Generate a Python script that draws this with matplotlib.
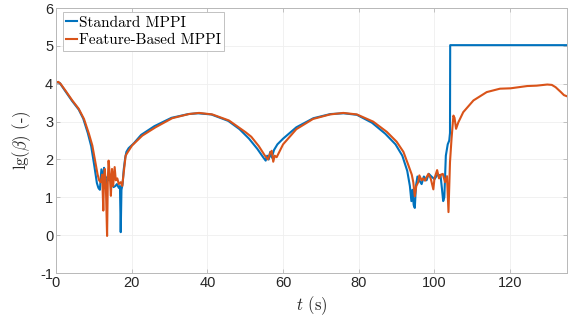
import numpy as np
import matplotlib
matplotlib.use('Agg')
import matplotlib.pyplot as plt

plt.rcParams['mathtext.fontset'] = 'cm'
plt.rcParams['font.family'] = ['Liberation Sans', 'DejaVu Sans']

# MATLAB default colours
c_std = (0.0, 0.447, 0.741)
c_feat = (0.85, 0.325, 0.098)

# Standard MPPI, lg(beta) over time
t_standard = [0, 0.5, 1.0, 2.5, 4.3, 6.0, 7.2, 8.4, 9.3, 10.1, 10.8, 11.2, 11.6, 12.0,
              12.4, 12.7, 13.0, 13.2, 13.6, 13.9, 14.3, 14.8, 15.2, 15.7, 16.1, 16.6,
              16.9, 17.1, 17.3, 17.6, 17.9, 18.3, 18.6, 19.2, 20.5, 22.5, 26, 30.5, 35,
              37.5, 41, 45.5, 48.5, 51, 53.2, 54.8, 55.4, 55.8, 56.2, 56.6, 57.0, 57.6,
              58.5, 60, 63.5, 68, 72.5, 76, 79.5, 83.5, 87, 89.7, 91.5, 92.8, 93.5, 93.9,
              94.2, 94.5, 94.8, 95.1, 95.5, 96, 96.6, 97.2, 97.9, 98.5, 99.2, 100, 100.8,
              101.6, 102.0, 102.3, 102.6, 103.0, 103.5, 103.9, 104.1, 104.15, 135]
lg_standard = [4.03, 4.04, 4.02, 3.8, 3.54, 3.32, 3.08, 2.7, 2.35, 1.85, 1.38, 1.25, 1.2, 1.74,
               1.45, 1.78, 1.3, 1.22, 1.55, 1.45, 1.6, 1.35, 1.27, 1.3, 1.35, 1.25,
               1.3, 0.08, 1.2, 1.35, 1.74, 2.05, 2.2, 2.3, 2.42, 2.65, 2.88, 3.1, 3.2,
               3.22, 3.19, 3.02, 2.8, 2.55, 2.28, 2.05, 1.97, 2.1, 2.0, 2.2, 2.05, 2.25,
               2.4, 2.55, 2.85, 3.09, 3.2, 3.22, 3.18, 2.97, 2.68, 2.4, 2.1, 1.7, 1.3, 0.9,
               1.2, 0.8, 0.72, 1.3, 1.55, 1.45, 1.35, 1.55, 1.45, 1.62, 1.55, 1.48, 1.6,
               1.58, 1.2, 0.9, 1.0, 2.1, 2.4, 2.5, 2.7, 5.02, 5.02]

# Feature-Based MPPI
t_feature = [0, 0.6, 1.2, 2.5, 4.3, 6.0, 7.4, 8.7, 9.6, 10.4, 11.0, 11.4, 11.8, 12.2, 12.5,
             12.7, 12.9, 13.2, 13.5, 13.7, 13.9, 14.2, 14.5, 14.8, 15.1, 15.5, 15.8, 16.2,
             16.6, 17.1, 17.5, 17.9, 18.4, 19.0, 20.1, 22.8, 26.3, 30.7, 35.1, 37.8, 41.3,
             45.7, 50.1, 51.6, 53.6, 55.2, 56.0, 56.5, 57.0, 57.4, 57.8, 58.3, 60.0, 63.5,
             67.9, 72.4, 75.9, 79.5, 83.8, 87.4, 90.0, 91.8, 93.1, 94.0, 94.4, 94.8, 95.2,
             95.7, 96.0, 96.6, 97.0, 97.5, 98.0, 98.4, 99.0, 99.7, 100.0, 100.7, 101.2,
             101.7, 102.2, 102.8, 103.3, 103.7, 104.1, 104.5, 105.0, 105.3, 105.7, 106.3,
             107.6, 110.3, 113.8, 117.3, 120.1, 124.5, 127, 129.8, 131, 132, 133.4, 134.2, 135]
lg_feature = [4.03, 4.05, 4.0, 3.82, 3.56, 3.34, 3.07, 2.68, 2.37, 1.93, 1.6, 1.45, 1.4, 1.6, 0.65,
              1.55, 1.75, 1.2, -0.02, 1.5, 1.97, 1.6, 1.04, 1.75, 1.3, 1.8, 1.45, 1.5,
              1.35, 1.4, 1.3, 1.66, 2.1, 2.2, 2.37, 2.63, 2.85, 3.09, 3.2, 3.23, 3.19,
              3.03, 2.72, 2.6, 2.35, 2.1, 2.0, 2.15, 2.23, 1.94, 2.1, 2.06, 2.4, 2.8,
              3.07, 3.19, 3.23, 3.19, 3.0, 2.73, 2.47, 2.2, 1.85, 1.6, 1.4, 1.03, 1.3,
              1.4, 1.58, 1.45, 1.5, 1.44, 1.55, 1.62, 1.5, 1.21, 1.5, 1.72, 1.5,
              1.6, 1.62, 1.4, 1.56, 0.61, 1.93, 2.54, 3.16, 3.1, 2.81, 2.98,
              3.25, 3.56, 3.78, 3.87, 3.88, 3.94, 3.95, 3.98, 3.97, 3.91, 3.78, 3.7, 3.67]

fig = plt.figure(figsize=(5.69, 3.22), dpi=100)
ax = fig.add_axes([0.0984, 0.152, 0.898, 0.823])

ax.plot(t_standard, lg_standard, color=c_std, lw=1.5, label='Standard MPPI')
ax.plot(t_feature, lg_feature, color=c_feat, lw=1.5, label='Feature-Based MPPI')

ax.set_xlim(0, 135)
ax.set_ylim(-1, 6)
ax.set_xticks(np.arange(0, 121, 20))
ax.set_yticks(np.arange(-1, 7, 1))
ax.set_yticklabels([str(v) for v in range(-1, 7)])

# light MATLAB-like grid and box
ax.grid(True, color='#efefef', lw=0.6)
ax.set_axisbelow(True)
for s in ax.spines.values():
    s.set_color('#b8b8b8')
    s.set_linewidth(0.7)
ax.tick_params(direction='in', length=3, width=0.6, color='#b8b8b8',
               top=True, right=True, labelsize=10.5, labelcolor='#262626', pad=2)

ax.set_xlabel(r'$t$ (s)', fontsize=12, family='cmr10', color='#262626', labelpad=3)
ax.set_ylabel(r'$\mathrm{lg}(\beta)$ (-)', fontsize=12, family='cmr10', color='#262626',
              labelpad=5)

leg = ax.legend(loc='upper left', bbox_to_anchor=(0.013, 0.985), borderaxespad=0,
                prop={'family': 'cmr10', 'size': 11}, handlelength=0.7,
                handletextpad=0.1, labelspacing=0.25, borderpad=0.25,
                fancybox=False, framealpha=1, edgecolor='#b8b8b8')
leg.get_frame().set_linewidth(0.6)

fig.savefig('out.png', dpi=100)
